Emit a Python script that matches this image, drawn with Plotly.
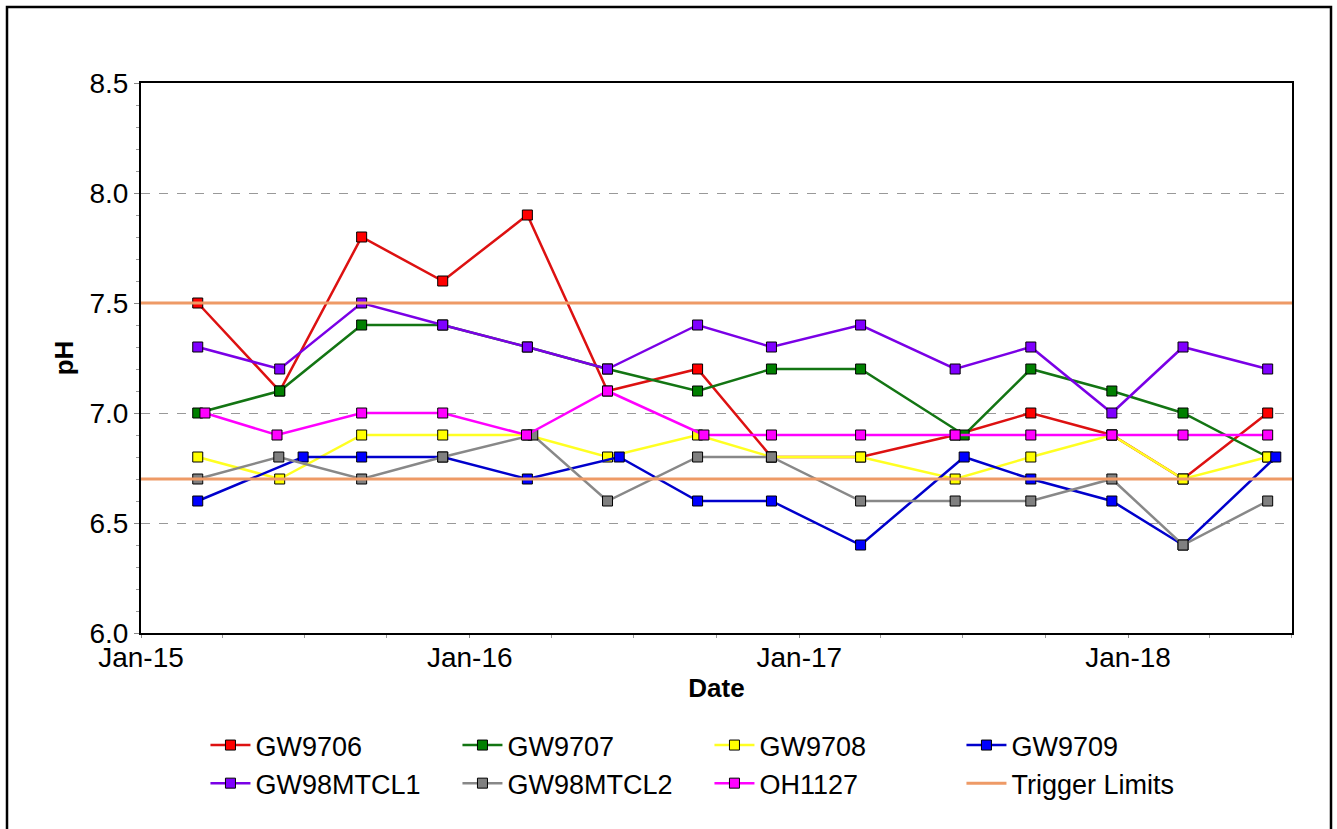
import plotly.graph_objects as go

# ---- data ----
dates_base = ["2015-03-05", "2015-06-04", "2015-09-03", "2015-12-02", "2016-03-05",
              "2016-06-02", "2016-09-10", "2016-12-01", "2017-03-10", "2017-06-23",
              "2017-09-15", "2017-12-14", "2018-03-03", "2018-06-05"]
dates_gw9707 = ["2015-03-05", "2015-06-04", "2015-09-03", "2015-12-02", "2016-03-05",
                "2016-06-02", "2016-09-10", "2016-12-01", "2017-03-10", "2017-07-03",
                "2017-09-15", "2017-12-14", "2018-03-03", "2018-06-05"]
dates_gw9709 = ["2015-03-05", "2015-06-30", "2015-09-03", "2015-12-02", "2016-03-05",
                "2016-06-15", "2016-09-10", "2016-12-01", "2017-03-10", "2017-07-03",
                "2017-09-15", "2017-12-14", "2018-03-03", "2018-06-14"]
dates_mtcl2 = ["2015-03-05", "2015-06-03", "2015-09-03", "2015-12-02", "2016-03-11",
               "2016-06-02", "2016-09-10", "2016-12-01", "2017-03-10", "2017-06-23",
               "2017-09-15", "2017-12-14", "2018-03-03", "2018-06-05"]
dates_oh1127 = ["2015-03-13", "2015-06-01", "2015-09-03", "2015-12-02", "2016-03-04",
                "2016-06-02", "2016-09-17", "2016-12-01", "2017-03-10", "2017-06-23",
                "2017-09-15", "2017-12-14", "2018-03-03", "2018-06-05"]

gw9706 = [7.5, 7.1, 7.8, 7.6, 7.9, 7.1, 7.2, 6.8, 6.8, 6.9, 7.0, 6.9, 6.7, 7.0]
gw9707 = [7.0, 7.1, 7.4, 7.4, 7.3, 7.2, 7.1, 7.2, 7.2, 6.9, 7.2, 7.1, 7.0, 6.8]
gw9708 = [6.8, 6.7, 6.9, 6.9, 6.9, 6.8, 6.9, 6.8, 6.8, 6.7, 6.8, 6.9, 6.7, 6.8]
gw9709 = [6.6, 6.8, 6.8, 6.8, 6.7, 6.8, 6.6, 6.6, 6.4, 6.8, 6.7, 6.6, 6.4, 6.8]
gw98mtcl1 = [7.3, 7.2, 7.5, 7.4, 7.3, 7.2, 7.4, 7.3, 7.4, 7.2, 7.3, 7.0, 7.3, 7.2]
gw98mtcl2 = [6.7, 6.8, 6.7, 6.8, 6.9, 6.6, 6.8, 6.8, 6.6, 6.6, 6.6, 6.7, 6.4, 6.6]
oh1127 = [7.0, 6.9, 7.0, 7.0, 6.9, 7.1, 6.9, 6.9, 6.9, 6.9, 6.9, 6.9, 6.9, 6.9]

trigger_upper = 7.5
trigger_lower = 6.7
x_start = "2015-01-01"
x_end = "2018-07-02"

series = [
    ("GW9706", dates_base, gw9706, "#DD1111", "#FF0000"),
    ("GW9707", dates_gw9707, gw9707, "#137513", "#008000"),
    ("GW9708", dates_base, gw9708, "#FFFF22", "#FFFF00"),
    ("GW9709", dates_gw9709, gw9709, "#0000CC", "#0000FF"),
    ("GW98MTCL1", dates_base, gw98mtcl1, "#7A00E6", "#8000FF"),
    ("GW98MTCL2", dates_mtcl2, gw98mtcl2, "#888888", "#808080"),
    ("OH1127", dates_oh1127, oh1127, "#FF00FF", "#FF00FF"),
]

fig = go.Figure()
for name, xs, ys, lc, mc in series:
    fig.add_trace(go.Scatter(
        x=xs, y=ys, name=name, mode="lines+markers",
        line=dict(color=lc, width=2.5),
        marker=dict(symbol="square", size=10, color=mc, line=dict(color="black", width=1)),
    ))

fig.add_trace(go.Scatter(
    x=[x_start, x_end, None, x_start, x_end],
    y=[trigger_upper, trigger_upper, None, trigger_lower, trigger_lower],
    name="Trigger Limits", mode="lines",
    line=dict(color="#EE9A66", width=3),
))

font_family = "Arial, Liberation Sans, sans-serif"

L, T, PW, PH = 141, 83, 1151, 550

fig.update_layout(
    width=1337, height=829,
    margin=dict(l=L, r=1337 - L - PW, t=T, b=829 - T - PH),
    paper_bgcolor="white", plot_bgcolor="white",
    font=dict(family=font_family, size=27, color="black"),
    showlegend=True,
    legend=dict(
        orientation="h", x=0.056, y=(633 - 721) / 550, xanchor="left", yanchor="top",
        font=dict(size=27, family=font_family),
        entrywidth=197, entrywidthmode="pixels",
        tracegroupgap=0, itemwidth=40, bgcolor="rgba(0,0,0,0)",
    ),
    xaxis=dict(
        type="date", range=[x_start, x_end],
        tick0="2015-01-01", dtick="M12", tickformat="%b-%y",
        ticks="outside", ticklen=3, tickcolor="#888888",
        ticklabelstandoff=-5,
        showline=True, linecolor="black", linewidth=2, mirror=True,
        showgrid=False, zeroline=False,
        tickfont=dict(size=28, family=font_family),
        title=dict(text="<b>Date</b>", font=dict(size=26, family=font_family), standoff=7),
        minor=dict(dtick="M3", tick0="2015-01-01", ticks="outside", ticklen=3, tickcolor="#999999", showgrid=False),
    ),
    yaxis=dict(
        range=[6.0, 8.5], dtick=0.5, tick0=6.0, tickformat=".1f",
        ticks="outside", ticklen=5, tickcolor="#888888",
        showline=True, linecolor="black", linewidth=2, mirror=True,
        showgrid=True, gridcolor="#999999", griddash="dash", gridwidth=1,
        zeroline=False,
        tickfont=dict(size=28, family=font_family),
        title=dict(text="<b>pH</b>", font=dict(size=26, family=font_family), standoff=8),
        minor=dict(dtick=0.1, tick0=6.0, ticks="outside", ticklen=3, tickcolor="#999999", showgrid=False),
    ),
    shapes=[dict(
        type="rect", xref="paper", yref="paper",
        x0=(7 - L) / PW, x1=(1331 - L) / PW,
        y0=(633 - 832) / PH, y1=(633 - 7) / PH,
        line=dict(color="black", width=2.5), fillcolor="rgba(0,0,0,0)", layer="below",
    )],
)

fig.write_html("out.html", config={"displayModeBar": False},
               post_script="document.body.style.margin='0';document.body.style.padding='0';")
